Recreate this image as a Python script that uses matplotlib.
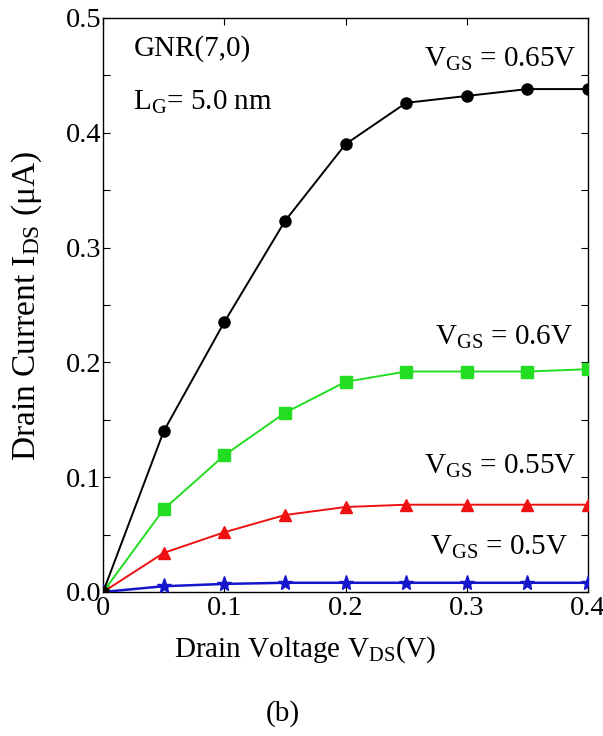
import matplotlib
matplotlib.use("Agg")
import matplotlib.pyplot as plt
from matplotlib.ticker import MultipleLocator, FixedLocator

plt.rcParams['font.family'] = ['Liberation Serif', 'DejaVu Serif']
plt.rcParams['mathtext.fontset'] = 'custom'
plt.rcParams['mathtext.rm'] = 'Liberation Serif'
plt.rcParams['mathtext.it'] = 'Liberation Serif:italic'

# Drain voltage sweep (V)
vds = [0.0, 0.05, 0.1, 0.15, 0.2, 0.25, 0.3, 0.35, 0.4]

# Drain current (uA) for each gate voltage
ids_065 = [0.0, 0.140, 0.235, 0.323, 0.390, 0.426, 0.432, 0.438, 0.438]
ids_060 = [0.0, 0.072, 0.119, 0.156, 0.183, 0.192, 0.192, 0.192, 0.194]
ids_055 = [0.0, 0.034, 0.052, 0.067, 0.074, 0.076, 0.076, 0.076, 0.076]
ids_050 = [0.0, 0.005, 0.007, 0.008, 0.008, 0.008, 0.008, 0.008, 0.008]

x_ticks = [0, 0.1, 0.2, 0.3, 0.4]
x_tick_labels = ['0', '0.1', '0.2', '0.3', '0.4']
y_ticks = [0.0, 0.1, 0.2, 0.3, 0.4, 0.5]
y_tick_labels = ['0.0', '0.1', '0.2', '0.3', '0.4', '0.5']

fig = plt.figure(figsize=(6.03, 7.36), dpi=100)
ax = fig.add_axes([0.171, 0.1957, 0.804, 0.780])

ax.plot(vds, ids_065, color='black', lw=1.4, marker='o', ms=8, zorder=4)
ax.plot(vds, ids_060, color='#22dd22', lw=1.4, marker='s', ms=8.5, zorder=3)
ax.plot(vds, ids_055, color='#ee1111', lw=1.4, marker='^', ms=8.5, zorder=3)
ax.plot(vds, ids_050, color='#1515cc', lw=1.8, marker='*', ms=11, zorder=3)

ax.set_xlim(0, 0.4)
ax.set_ylim(0, 0.5)
ax.xaxis.set_major_locator(FixedLocator(x_ticks))
ax.set_xticklabels(x_tick_labels)
ax.yaxis.set_major_locator(FixedLocator(y_ticks))
ax.set_yticklabels(y_tick_labels)
ax.yaxis.set_minor_locator(MultipleLocator(0.05))
ax.tick_params(which='both', direction='in', top=True, right=True,
               length=5, width=0.8, labelsize=20.5, pad=3)
ax.tick_params(axis='y', pad=1)
for sp in ax.spines.values():
    sp.set_linewidth(1.0)

fs = 21
ax.text(0.025, 0.473, 'GNR(7,0)', fontsize=fs, va='center', ha='left')
ax.text(0.025, 0.426, r'L$_\mathrm{G}$= 5.0 nm', fontsize=fs, va='center', ha='left')
ax.text(0.391, 0.464, r'V$_\mathrm{GS}$ = 0.65V', fontsize=fs, va='center', ha='right')
ax.text(0.388, 0.222, r'V$_\mathrm{GS}$ = 0.6V', fontsize=fs, va='center', ha='right')
ax.text(0.391, 0.109, r'V$_\mathrm{GS}$ = 0.55V', fontsize=fs, va='center', ha='right')
ax.text(0.384, 0.039, r'V$_\mathrm{GS}$ = 0.5V', fontsize=fs, va='center', ha='right')

fig.text(0.506, 0.117, r'Drain Voltage V$_\mathrm{DS}$(V)', fontsize=fs,
         ha='center', va='center')
fig.text(0.045, 0.584, r'Drain Current I$_\mathrm{DS}$ ($\mathrm{\mu}$A)', fontsize=24,
         ha='center', va='center', rotation=90)
fig.text(0.469, 0.031, '(b)', fontsize=fs, ha='center', va='center')

fig.savefig('out.png', dpi=100)
